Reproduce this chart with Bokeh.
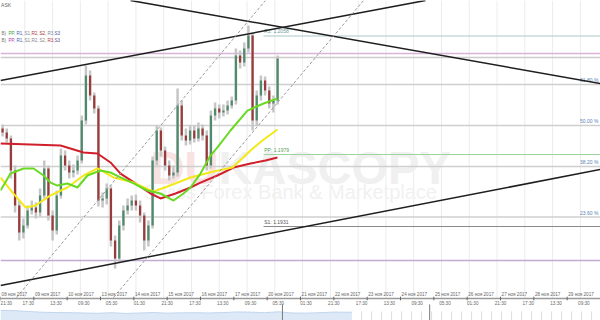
import numpy as np
from bokeh.plotting import figure
from bokeh.models import Range1d
from bokeh.core.properties import value
from bokeh.embed import file_html
from bokeh.resources import INLINE

# ---------------- data ----------------
first_open = 1.19963
candle_first_hour = 1.5
candle_hours = 3.0
close = [1.19937, 1.19897, 1.19683, 1.19450, 1.19270, 1.19317, 1.19417, 1.19437, 1.19403, 1.19517,
         1.19697, 1.19383, 1.19283, 1.19517, 1.19783, 1.19717, 1.19670, 1.19683, 1.19750, 1.20017,
         1.20317, 1.20183, 1.20097, 1.19483, 1.19497, 1.19563, 1.19217, 1.19097, 1.19317, 1.19417,
         1.19450, 1.19483, 1.19450, 1.19383, 1.19217, 1.19317, 1.19750, 1.19950, 1.19817, 1.19717,
         1.19650, 1.19670, 1.20117, 1.19917, 1.19883, 1.19950, 1.19897, 1.19963, 1.19917, 1.19717,
         1.20050, 1.20097, 1.20070, 1.20083, 1.20117, 1.20150, 1.20450, 1.20403, 1.20497, 1.20583,
         1.20017, 1.20183, 1.20283, 1.20217, 1.20130, 1.20150, 1.20430]
high = [1.19990, 1.19963, 1.19917, 1.19717, 1.19483, 1.19363, 1.19450, 1.19483, 1.19470, 1.19563,
        1.19750, 1.19717, 1.19417, 1.19550, 1.19830, 1.19817, 1.19750, 1.19723, 1.19783, 1.20050,
        1.20383, 1.20350, 1.20203, 1.20117, 1.19537, 1.19597, 1.19583, 1.19250, 1.19350, 1.19450,
        1.19497, 1.19517, 1.19523, 1.19483, 1.19403, 1.19350, 1.19777, 1.19983, 1.19970, 1.19843,
        1.19750, 1.19717, 1.20230, 1.20150, 1.19963, 1.19983, 1.19983, 1.20003, 1.19990, 1.19950,
        1.20083, 1.20137, 1.20123, 1.20123, 1.20150, 1.20177, 1.20497, 1.20483, 1.20537, 1.20650,
        1.20603, 1.20217, 1.20317, 1.20310, 1.20243, 1.20183, 1.20450]
low = [1.19910, 1.19870, 1.19630, 1.19403, 1.19217, 1.19230, 1.19297, 1.19390, 1.19363, 1.19377,
       1.19497, 1.19350, 1.19217, 1.19257, 1.19497, 1.19683, 1.19630, 1.19637, 1.19657, 1.19730,
       1.19990, 1.20150, 1.20063, 1.19443, 1.19437, 1.19457, 1.19177, 1.19030, 1.19070, 1.19283,
       1.19390, 1.19417, 1.19417, 1.19337, 1.19150, 1.19177, 1.19297, 1.19717, 1.19777, 1.19683,
       1.19617, 1.19630, 1.19643, 1.19883, 1.19850, 1.19857, 1.19870, 1.19877, 1.19883, 1.19683,
       1.19697, 1.20017, 1.20030, 1.20043, 1.20057, 1.20097, 1.20123, 1.20363, 1.20377, 1.20470,
       1.19950, 1.19983, 1.20150, 1.20183, 1.20097, 1.20070, 1.20123]

ma_red_h = [0, 21.6, 43.2, 59.8, 69.8, 79.2, 86.4, 97.2, 108, 115.2, 126, 136.8, 144, 156.2, 167.8, 180, 190.8, 199.4]
ma_red = [1.19863, 1.19857, 1.19850, 1.19803, 1.19797, 1.19737, 1.19663, 1.19597, 1.19530, 1.19497,
          1.19530, 1.19570, 1.19603, 1.19650, 1.19703, 1.19730, 1.19750, 1.19770]
ma_yellow_h = [0, 8.6, 18, 25.2, 36, 48.2, 59.8, 69.8, 81.4, 95.8, 110.2, 120.2, 136.8, 153.4, 167, 180, 188.6, 199.4]
ma_yellow = [1.19637, 1.19537, 1.19437, 1.19450, 1.19517, 1.19570, 1.19650, 1.19697, 1.19637, 1.19603,
             1.19543, 1.19577, 1.19637, 1.19677, 1.19703, 1.19817, 1.19883, 1.19957]
ma_green_h = [0, 7.2, 16.6, 23.8, 31, 36, 41, 48.2, 55.4, 62.6, 72, 79.2, 86.4, 95.8, 105.8, 115.2, 124.6,
              131.8, 136.8, 144, 151.2, 156.2, 165.6, 177.8, 189.4, 199.4]
ma_green = [1.19550, 1.19663, 1.19697, 1.19697, 1.19650, 1.19603, 1.19583, 1.19597, 1.19570, 1.19650,
            1.19683, 1.19670, 1.19637, 1.19597, 1.19550, 1.19530, 1.19483, 1.19530, 1.19570, 1.19663,
            1.19783, 1.19837, 1.19950, 1.20083, 1.20130, 1.20163]

# trend lines (hours, price)
trend_desc_h = [93.6, 432.0]; trend_desc_p = [1.20817, 1.20263]
trend_up_h = [0.0, 306.0];    trend_up_p = [1.20283, 1.20817]
trend_low_h = [0.0, 432.0];   trend_low_p = [1.18917, 1.19690]
dash_a_h = [11.5, 190.8];     dash_a_p = [1.18837, 1.20817]
dash_b_h = [81.4, 261.4];     dash_b_p = [1.18837, 1.20817]

# horizontal levels
level_pink = 1.20463
level_gray = 1.20437
level_purple = 1.19083
pivot_names = ["R1", "PP", "S1"]
pivot_values = [1.2058, 1.1979, 1.1931]
pivot_start_h = 189.4
fib_low = 1.18827
fib_high = 1.21140
fib_ratios = [0.236, 0.382, 0.5, 0.618]
fib_labels = ["23.60 %", "38.20 %", "50.00 %", "61.80 %"]

# volume
vol_h = [0, 10, 20, 30, 40, 50, 60, 70, 80, 90, 100, 110, 120, 130, 140, 150, 160, 170, 180, 190,
         200, 210, 220, 230, 240, 253]
vol = [67, 66, 60, 55, 53, 52, 50, 48, 52, 47, 50, 53, 49, 51, 52, 50, 53, 57, 56, 52, 58, 50, 49, 52, 56, 55]

# axis labels
days = ["08", "09", "10", "13", "14", "15", "16", "17", "20", "21", "22", "23", "24", "25", "26", "27", "28", "29"]
month = "ноя 2017"
time_labels = ["21:30", "17:30", "13:30", "09:30", "05:30", "01:30", "21:30", "17:30", "13:30", "09:30", "05:30",
               "01:30", "21:30", "17:30", "13:30", "09:30", "05:30", "01:30", "21:30", "17:30", "13:30", "09:30"]

# ---------------- figure ----------------
Y_TOP, Y_BOT = 1.2081667, 1.1868333
AXIS_P = 1.18830
FONT = value("Liberation Sans")

p = figure(width=600, height=320, x_range=Range1d(0, 432), y_range=Range1d(Y_BOT, Y_TOP),
           output_backend="svg", toolbar_location=None, min_border=0,
           x_axis_type=None, y_axis_type=None, outline_line_color=None,
           background_fill_color="white", border_fill_color="white")
p.extra_y_ranges = {"vol": Range1d(0, 2133.3)}

# vertical grid
grid_h = np.arange(17.5, 432, 20.0)
p.segment(x0=grid_h, y0=AXIS_P, x1=grid_h, y1=Y_TOP, line_color="#ececec", line_width=1)

# watermark
p.text(x=[108], y=[1.19703], text=["DUKASCOPY"], text_font=FONT, text_font_style="bold",
       text_font_size="47px", text_color="#f0f0f0", text_baseline="alphabetic")
p.text(x=[108], y=[1.19703], text=["DU"], text_font=FONT, text_font_style="bold",
       text_font_size="47px", text_color="#f8e2e2", text_baseline="alphabetic")
p.text(x=[103], y=[1.19537], text=["Swiss Forex Bank & Marketplace"], text_font=FONT,
       text_font_size="20px", text_color="#f1f1f1", text_baseline="alphabetic")

# horizontal levels
fib_levels = [fib_low + r * (fib_high - fib_low) for r in fib_ratios]
for lv in fib_levels:
    p.line([0, 432], [lv, lv], line_color="#cfcfcf", line_width=1.5)
p.line([0, 432], [level_gray, level_gray], line_color="#cccccc", line_width=1.5)
p.line([0, 432], [level_pink, level_pink], line_color="#d9b3d9", line_width=1.5)
p.line([0, 432], [level_purple, level_purple], line_color="#c3aad3", line_width=1.5)
pivot_colors = ["#a9c9c9", "#9fd49f", "#8a8a8a"]
pivot_text_colors = ["#6a9a9a", "#5aa05a", "#555555"]
for v, c in zip(pivot_values, pivot_colors):
    p.line([pivot_start_h, 432], [v, v], line_color=c, line_width=1.2)
p.text(x=[pivot_start_h + 0.5] * 3, y=[v + 0.00012 for v in pivot_values],
       text=[f"{n}: {v:.4f}" for n, v in zip(pivot_names, pivot_values)],
       text_color=pivot_text_colors, text_font=FONT, text_font_size="5px", text_baseline="bottom")
p.text(x=[430.5] * 4, y=[lv + 0.00008 for lv in fib_levels], text=fib_labels, text_color="#5b7fb5",
       text_font=FONT, text_font_size="5px", text_align="right", text_baseline="bottom")

# candles
n = len(close)
t = candle_first_hour + candle_hours * np.arange(n)
opn = np.array([first_open] + close[:-1])
cl = np.array(close)
hi = np.array(high)
lo = np.array(low)
up = cl >= opn
p.segment(x0=t, y0=lo, x1=t, y1=hi, line_color="#c6c6c6", line_width=2.5)
top = np.maximum(opn, cl)
bot = np.minimum(opn, cl)
bot = np.where(top - bot < 0.00003, top - 0.00003, bot)
p.vbar(x=t[up], top=top[up], bottom=bot[up], width=1.6, fill_color="#4f8a6c", line_color=None)
p.vbar(x=t[~up], top=top[~up], bottom=bot[~up], width=1.6, fill_color="#9a3b3b", line_color=None)

# moving averages
p.line(ma_red_h, ma_red, line_color="#d11f2b", line_width=2)
p.line(ma_yellow_h, ma_yellow, line_color="#f3e81a", line_width=2)
p.line(ma_green_h, ma_green, line_color="#6ad924", line_width=2)

# trend lines
for hx, py in [(trend_desc_h, trend_desc_p), (trend_up_h, trend_up_p), (trend_low_h, trend_low_p)]:
    p.line(hx, py, line_color="#1e1e1e", line_width=1.5)
for hx, py in [(dash_a_h, dash_a_p), (dash_b_h, dash_b_p)]:
    p.line(hx, py, line_color="#9a9a9a", line_width=1, line_dash="3 2")

# top-left texts
p.text(x=[0.4], y=[1.20787], text=["ASK"], text_color="#666666", text_font=FONT,
       text_font_size="5px", text_align="left", text_baseline="middle")
leg_x = [0.7, 5.8, 11.5, 17.3, 22.3, 28.1, 33.8, 38.9]
leg_tokens = ["B)", "PP,", "R1,", "S1,", "R2,", "S2,", "R3,", "S3"]
leg1_colors = ["#777777", "#3fa03f", "#4466aa", "#778899", "#b03a3a", "#a03030", "#778899", "#55559a"]
leg2_colors = ["#777777", "#b040b0", "#4466aa", "#888888", "#888888", "#888888", "#c03a3a", "#55559a"]
p.text(x=leg_x, y=[1.20597] * 8, text=leg_tokens, text_color=leg1_colors, text_font=FONT,
       text_font_size="4.6px", text_baseline="middle")
p.text(x=leg_x, y=[1.20550] * 8, text=leg_tokens, text_color=leg2_colors, text_font=FONT,
       text_font_size="4.6px", text_baseline="middle")

# bottom axis line, ticks, labels
p.line([0, 432], [AXIS_P, AXIS_P], line_color="#9a9a9a", line_width=1.5)
day_h = 24.0 * np.arange(len(days))
p.segment(x0=day_h, y0=AXIS_P + 0.00012, x1=day_h, y1=AXIS_P - 0.00012, line_color="#666666", line_width=1)
p.text(x=day_h + 0.8, y=[1.18857] * len(days), text=[f"{d} {month}" for d in days], text_color="#666666",
       text_font=FONT, text_font_size="4.6px", text_baseline="middle")
time_h = 20.0 * np.arange(len(time_labels))
time_x = [max(h, 4.2) for h in time_h]  # keep the first label inside the picture
p.text(x=time_x, y=[1.18797] * len(time_labels), text=time_labels, text_color="#666666",
       text_font=FONT, text_font_size="4.6px", text_align="center", text_baseline="middle")

# volume strip
p.varea(x=vol_h, y1=[0] * len(vol), y2=vol, fill_color="#dde9f7", y_range_name="vol")
p.line(vol_h, vol, line_color="#c2d5ee", line_width=1, y_range_name="vol")
empty_h = np.arange(260, 432, 7.2)
p.segment(x0=empty_h, y0=0, x1=empty_h, y1=60, line_color="#dddddd", line_width=1, y_range_name="vol")
now_h = [203.0, 309.0]
p.segment(x0=now_h, y0=[0, 0], x1=now_h, y1=[107, 107], line_color="#7a7a7a", line_width=1,
          y_range_name="vol")

open("out.html", "w").write(file_html(p, INLINE))
